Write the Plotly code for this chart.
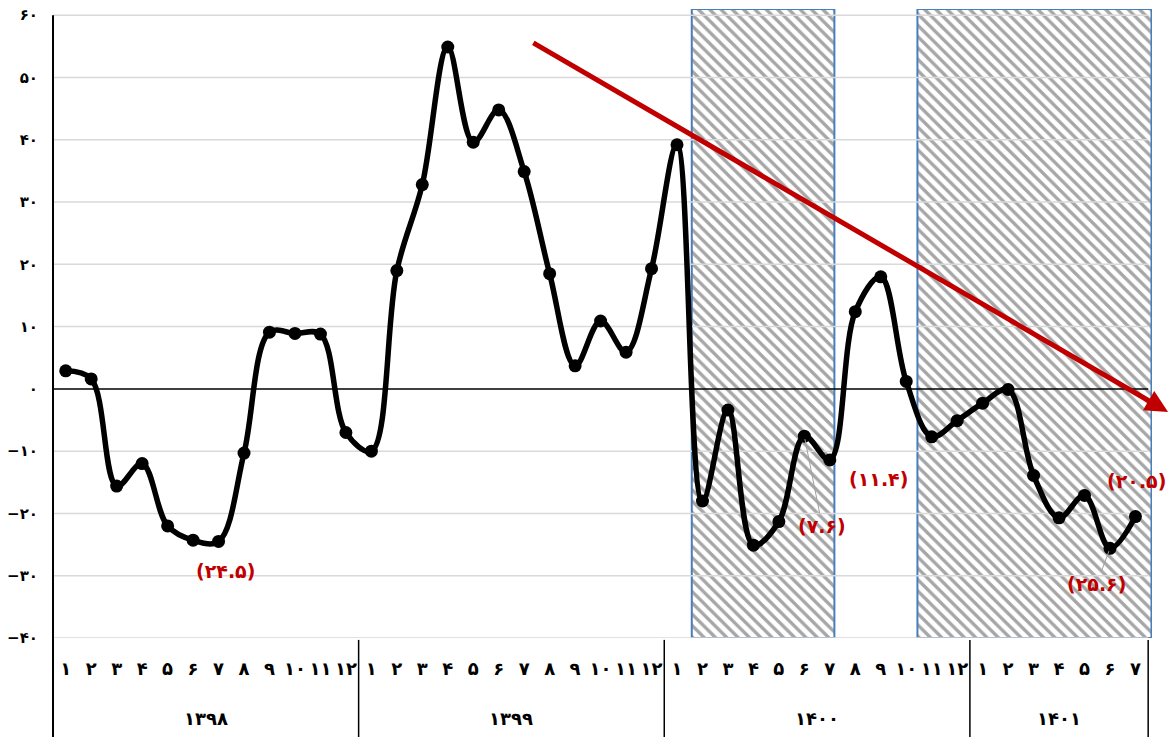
import plotly.graph_objects as go

# ---------------- data ----------------
years = ["۱۳۹۸", "۱۳۹۹", "۱۴۰۰", "۱۴۰۱"]
months_per_year = [12, 12, 12, 7]

values_1398 = [2.9, 1.6, -15.6, -12.0, -22.0, -24.3, -24.5, -10.3, 9.1, 8.9, 8.8, -7.0]
values_1399 = [-10.0, 19.0, 32.8, 54.9, 39.6, 44.8, 34.9, 18.5, 3.7, 10.9, 5.9, 19.3]
values_1400 = [39.2, -18.0, -3.4, -25.1, -21.3, -7.6, -11.4, 12.4, 18.0, 1.2, -7.7, -5.1]
values_1401 = [-2.3, -0.1, -13.9, -20.7, -17.1, -25.6, -20.5]

y_ticks = [-40, -30, -20, -10, 0, 10, 20, 30, 40, 50, 60]

# shaded periods (start, end) in month-index units
shaded_periods = [(24.58, 30.18), (33.44, 42.63)]

# labelled values: (label, month index, label x, label y, leader line)
labels = [
    ("(۲۴.۵)", 6, 6.27, -29.2, False),
    ("(۷.۶)", 29, 29.7, -22.0, True),
    ("(۱۱.۴)", 30, 31.93, -14.4, False),
    ("(۲۵.۶)", 41, 40.48, -31.3, True),
    ("(۲۰.۵)", 42, 42.05, -14.8, False),
]

# trend arrow (tail -> head) in axis units
trend_tail = (18.3, 55.7)
trend_head = (43.28, -3.7)

# ---------------- helpers ----------------
FA = str.maketrans("0123456789-", "۰۱۲۳۴۵۶۷۸۹−")


def fa(s):
    return str(s).translate(FA)


values = values_1398 + values_1399 + values_1400 + values_1401
x_idx = list(range(len(values)))
month_labels = []
for n in months_per_year:
    month_labels += [fa(m) for m in range(1, n + 1)]

X_MIN, X_MAX = -0.5, 42.65
GRID_END = len(values) - 0.5
Y_MIN, Y_MAX = -40, 61

FONT = "DejaVu Sans"
RED = "#c00000"

FIG_W, FIG_H = 1170, 737
M_L, M_R, M_T, M_B = 53, 18, 9, 99

fig = go.Figure()

# hatched periods
fig.add_trace(go.Bar(
    x=[(a + b) / 2 for a, b in shaded_periods],
    width=[b - a for a, b in shaded_periods],
    y=[Y_MAX - Y_MIN] * len(shaded_periods),
    base=[Y_MIN] * len(shaded_periods),
    marker=dict(
        color="rgba(0,0,0,0)",
        pattern=dict(shape="\\", fgcolor="#a6a6a6", bgcolor="rgba(255,255,255,0)",
                     size=8, solidity=0.42, fillmode="replace"),
        line=dict(color="#4a7ebb", width=2),
    ),
    hoverinfo="skip",
    showlegend=False,
))

# gridlines and zero line drawn above the hatch
for v in y_ticks:
    fig.add_trace(go.Scatter(
        x=[X_MIN, GRID_END], y=[v, v], mode="lines",
        line=dict(color="black" if v == 0 else "#d9d9d9", width=1.5),
        hoverinfo="skip", showlegend=False,
    ))

# main line
fig.add_trace(go.Scatter(
    x=x_idx, y=values,
    mode="lines+markers",
    line=dict(color="black", width=5.5, shape="spline", smoothing=1.0),
    marker=dict(color="black", size=13),
    showlegend=False,
))

annotations = []

# red labels
for text, mi, lx, ly, leader in labels:
    if leader:
        annotations.append(dict(
            x=x_idx[mi], y=values[mi], xref="x", yref="y",
            ax=lx, ay=ly, axref="x", ayref="y",
            text=text, showarrow=True, arrowhead=0, arrowwidth=1,
            arrowcolor="#a0a0a0", standoff=3,
            font=dict(family=FONT, size=19, color=RED, weight="bold"),
        ))
    else:
        annotations.append(dict(
            x=lx, y=ly, xref="x", yref="y", text=text, showarrow=False,
            xanchor="center", yanchor="middle",
            font=dict(family=FONT, size=19, color=RED, weight="bold"),
        ))

# trend arrow
annotations.append(dict(
    x=trend_head[0], y=trend_head[1], xref="x", yref="y",
    ax=trend_tail[0], ay=trend_tail[1], axref="x", ayref="y",
    text="", showarrow=True, arrowhead=2, arrowsize=0.9, arrowwidth=5,
    arrowcolor=RED, standoff=0,
))

# year labels and separators
plot_h = FIG_H - M_T - M_B
bottom_paper = -M_B / plot_h


def px(v):
    return (v - X_MIN) / (X_MAX - X_MIN)


shapes = []
start = 0
bounds = [-0.5]
for yr, n in zip(years, months_per_year):
    center = start + (n - 1) / 2
    annotations.append(dict(
        x=center, y=-80 / plot_h, xref="x", yref="paper", text=yr, showarrow=False,
        xanchor="center", yanchor="middle",
        font=dict(family=FONT, size=18, color="black", weight="bold"),
    ))
    start += n
    bounds.append(start - 0.5)

for i, b in enumerate(bounds):
    shapes.append(dict(
        type="line", xref="paper", yref="paper",
        x0=px(b), x1=px(b),
        y0=((Y_MAX - 1 - Y_MIN) / (Y_MAX - Y_MIN)) if i == 0 else -0.003,
        y1=bottom_paper,
        line=dict(color="black", width=2 if i == 0 else 1.5),
    ))

fig.update_layout(
    width=FIG_W, height=FIG_H,
    margin=dict(l=M_L, r=M_R, t=M_T, b=M_B),
    paper_bgcolor="white", plot_bgcolor="white",
    barmode="overlay",
    annotations=annotations,
    shapes=shapes,
    xaxis=dict(
        range=[X_MIN, X_MAX], automargin=False,
        tickmode="array", tickvals=x_idx, ticktext=month_labels,
        ticks="outside", ticklen=14, tickcolor="rgba(0,0,0,0)",
        showgrid=False, zeroline=False, showline=False,
        tickfont=dict(family=FONT, size=18, color="black", weight="bold"),
        tickangle=0, ticklabeloverflow="allow",
    ),
    yaxis=dict(
        range=[Y_MIN, Y_MAX], automargin=False,
        tickmode="array", tickvals=y_ticks, ticktext=[fa(v) for v in y_ticks],
        ticks="outside", ticklen=11, tickcolor="rgba(0,0,0,0)",
        showgrid=False, zeroline=False, showline=False,
        tickfont=dict(family=FONT, size=15, color="black", weight="bold"),
        ticklabeloverflow="allow",
    ),
)

# remove the browser's default 8px page margin so the figure fills the window
fig.write_html("out.html", config={"displayModeBar": False},
               post_script="document.body.style.margin='0px';")
